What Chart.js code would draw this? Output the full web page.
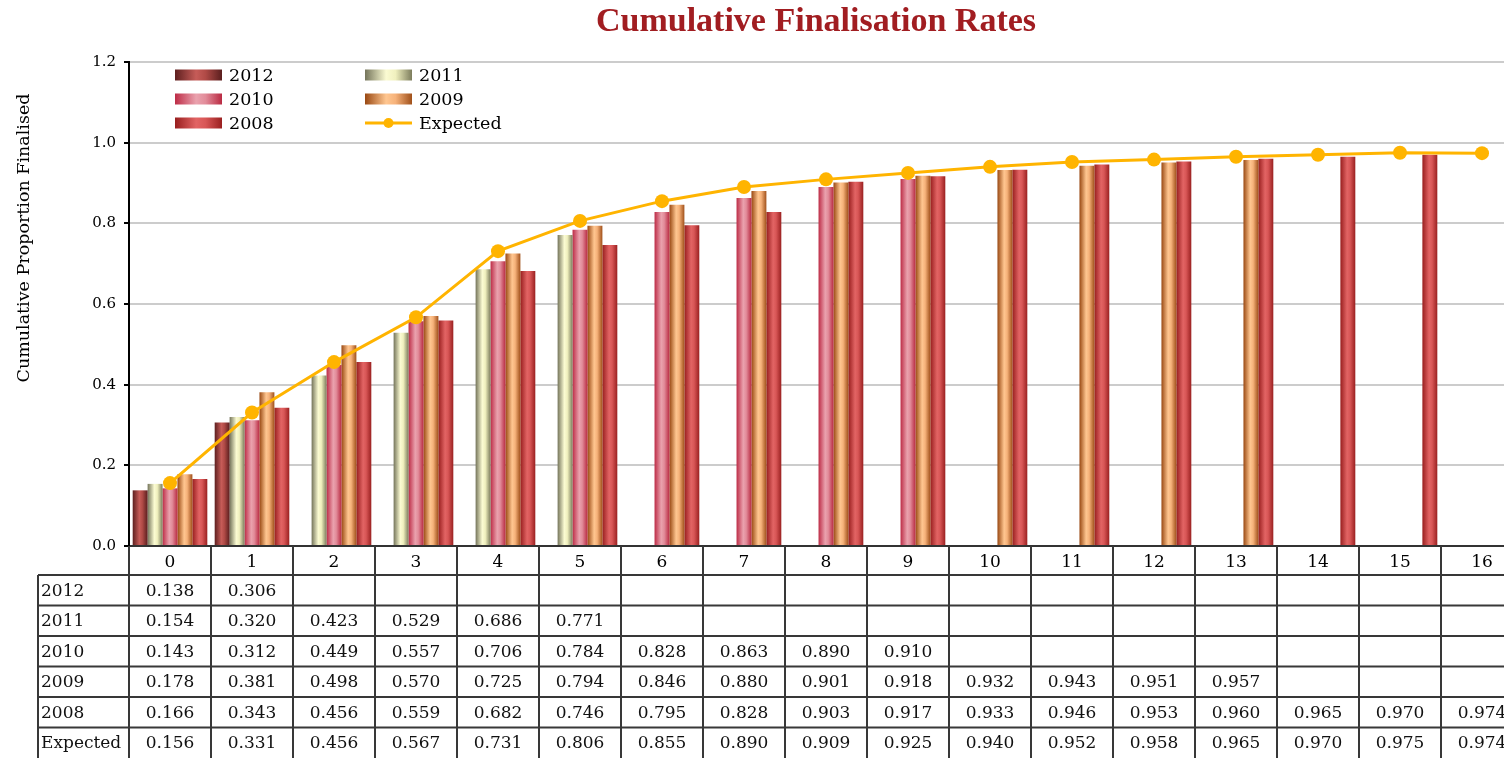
<!DOCTYPE html>
<html>
<head>
<meta charset="utf-8">
<title>Cumulative Finalisation Rates</title>
<script src="https://cdn.jsdelivr.net/npm/chart.js@4.4.1/dist/chart.umd.min.js"></script>
<style>
	html, body { margin: 0; padding: 0; background: #fff; overflow: hidden; }
	#wrap { width: 1530px; height: 758px; }
</style>
</head>
<body>
<div id="wrap"><canvas id="finalisation-chart" width="1530" height="758"></canvas></div>
<script>
// development period (years since lodgement)
var categories = ['0', '1', '2', '3', '4', '5', '6', '7', '8', '9', '10', '11', '12', '13', '14', '15', '16'];

var y2012 = [0.138, 0.306];
var y2011 = [0.154, 0.320, 0.423, 0.529, 0.686, 0.771];
var y2010 = [0.143, 0.312, 0.449, 0.557, 0.706, 0.784, 0.828, 0.863, 0.890, 0.910];
var y2009 = [0.178, 0.381, 0.498, 0.570, 0.725, 0.794, 0.846, 0.880, 0.901, 0.918, 0.932, 0.943, 0.951, 0.957];
var y2008 = [0.166, 0.343, 0.456, 0.559, 0.682, 0.746, 0.795, 0.828, 0.903, 0.917, 0.933, 0.946, 0.953, 0.960, 0.965, 0.970, 0.974];
var expected = [0.156, 0.331, 0.456, 0.567, 0.731, 0.806, 0.855, 0.890, 0.909, 0.925, 0.940, 0.952, 0.958, 0.965, 0.970, 0.975, 0.974];

var yTicks = [0, 0.2, 0.4, 0.6, 0.8, 1.0, 1.2];

var SERIF = '"DejaVu Serif", serif';
var LINE_COLOR = '#ffb400';

// cylinder-like shading for each year: edge, highlight, mid, edge
var shades = {
	'2012': ['#5e1f1f', '#c65c58', '#b04a46', '#5a1e1e'],
	'2011': ['#74745a', '#fbfbd2', '#f0f0be', '#7c7c5c'],
	'2010': ['#bd2c46', '#eaa2ae', '#e28c9a', '#b92a42'],
	'2009': ['#994812', '#ffc690', '#f6b27a', '#a0501a'],
	'2008': ['#981e1e', '#e26464', '#d85656', '#9a2020']
};

function shadeGradient(ctx, label, x0, x1) {
	var s = shades[label];
	var g = ctx.createLinearGradient(x0, 0, x1, 0);
	g.addColorStop(0, s[0]);
	g.addColorStop(0.45, s[1]);
	g.addColorStop(0.65, s[2]);
	g.addColorStop(1, s[3]);
	return g;
}

function barSet(label, values) {
	return { type: 'bar', label: label, data: values, order: 1, backgroundColor: shades[label][2], borderWidth: 0 };
}

// repaint every bar with its own horizontal gradient
var barShading = {
	id: 'barShading',
	beforeDatasetsDraw: function(chart) {
		chart.data.datasets.forEach(function(ds, i) {
			if (ds.type !== 'bar') return;
			chart.getDatasetMeta(i).data.forEach(function(el, j) {
				if (ds.data[j] == null) return;
				var g = shadeGradient(chart.ctx, ds.label, el.x - el.width / 2, el.x + el.width / 2);
				el.options = Object.assign({}, el.options, { backgroundColor: g });
			});
		});
	}
};

// chart title and the value-axis title
var headings = {
	id: 'headings',
	afterDraw: function(chart) {
		var ctx = chart.ctx, a = chart.chartArea;
		ctx.save();
		ctx.font = 'bold 34px "Liberation Serif", serif';
		ctx.fillStyle = '#a11d21';
		ctx.textAlign = 'center';
		ctx.textBaseline = 'middle';
		ctx.fillText('Cumulative Finalisation Rates', (a.left + a.right) / 2 - 10, 22);

		ctx.font = '17.5px ' + SERIF;
		ctx.fillStyle = '#000';
		ctx.translate(24, 238);
		ctx.rotate(-Math.PI / 2);
		ctx.fillText('Cumulative Proportion Finalised', 0, 0);
		ctx.restore();
	}
};

// two-column legend in the top left of the plot
var insetLegend = {
	id: 'insetLegend',
	afterDraw: function(chart) {
		var ctx = chart.ctx, a = chart.chartArea;
		var cols = [a.left + 46, a.left + 236];
		var sw = 47;
		ctx.save();
		ctx.font = '17.5px ' + SERIF;
		ctx.textBaseline = 'middle';
		ctx.fillStyle = '#000';
		chart.data.datasets.forEach(function(ds, i) {
			var x = cols[i % 2];
			var y = a.top + 13 + Math.floor(i / 2) * 24;
			if (ds.type === 'bar') {
				ctx.fillStyle = shadeGradient(ctx, ds.label, x, x + sw);
				ctx.fillRect(x, y - 5.5, sw, 11);
			} else {
				ctx.strokeStyle = ds.borderColor;
				ctx.lineWidth = 3;
				ctx.beginPath();
				ctx.moveTo(x, y);
				ctx.lineTo(x + sw, y);
				ctx.stroke();
				ctx.fillStyle = ds.borderColor;
				ctx.beginPath();
				ctx.arc(x + sw / 2, y, 5, 0, Math.PI * 2);
				ctx.fill();
			}
			ctx.fillStyle = '#000';
			ctx.fillText(ds.label, x + sw + 7, y + 1);
		});
		ctx.restore();
	}
};

// data table under the category axis
var dataTable = {
	id: 'dataTable',
	afterDraw: function(chart) {
		var ctx = chart.ctx, xs = chart.scales.x, a = chart.chartArea;
		var rows = chart.data.datasets;
		var colW = xs.width / categories.length;
		var labelLeft = 38;
		var headTop = a.bottom;
		var rowTop = headTop + 29;
		var rowH = (chart.height - rowTop) / rows.length;
		ctx.save();
		ctx.strokeStyle = '#383838';
		ctx.lineWidth = 2;
		ctx.beginPath();
		for (var k = 0; k < rows.length; k++) {
			ctx.moveTo(labelLeft, rowTop + k * rowH);
			ctx.lineTo(xs.right, rowTop + k * rowH);
		}
		for (var c = 0; c <= categories.length; c++) {
			ctx.moveTo(xs.left + c * colW, headTop);
			ctx.lineTo(xs.left + c * colW, chart.height);
		}
		ctx.moveTo(labelLeft, rowTop);
		ctx.lineTo(labelLeft, chart.height);
		ctx.stroke();

		ctx.font = '17px ' + SERIF;
		ctx.fillStyle = '#111';
		ctx.textBaseline = 'middle';
		rows.forEach(function(ds, r) {
			var y = rowTop + r * rowH + rowH / 2 + 1;
			ctx.textAlign = 'left';
			ctx.fillText(ds.label, labelLeft + 3, y);
			ctx.textAlign = 'center';
			ds.data.forEach(function(v, i) {
				if (v == null) return;
				ctx.fillText(v.toFixed(3), xs.getPixelForValue(i), y);
			});
		});
		ctx.restore();
	}
};

new Chart(document.getElementById('finalisation-chart'), {
	data: {
		labels: categories,
		datasets: [
			barSet('2012', y2012),
			barSet('2011', y2011),
			barSet('2010', y2010),
			barSet('2009', y2009),
			barSet('2008', y2008),
			{
				type: 'line',
				label: 'Expected',
				data: expected,
				order: 0,
				borderColor: LINE_COLOR,
				backgroundColor: LINE_COLOR,
				borderWidth: 3,
				tension: 0,
				pointRadius: 7,
				pointBorderWidth: 0,
				pointBackgroundColor: LINE_COLOR
			}
		]
	},
	options: {
		responsive: false,
		animation: false,
		events: [],
		datasets: { bar: { categoryPercentage: 0.91, barPercentage: 1 } },
		layout: { padding: { top: 62, left: 0, right: 6, bottom: 0 } },
		plugins: { legend: { display: false }, tooltip: { enabled: false } },
		scales: {
			x: {
				grid: { display: false, drawTicks: false },
				border: { color: '#333', width: 2 },
				ticks: { color: '#000', font: { family: SERIF, size: 17 }, padding: 6 },
				afterFit: function(scale) { scale.height = 212; }
			},
			y: {
				min: 0,
				max: 1.2,
				afterBuildTicks: function(scale) { scale.ticks = yTicks.map(function(v) { return { value: v }; }); },
				grid: { color: '#cccccc', lineWidth: 2, tickColor: '#000', tickLength: 5 },
				border: { color: '#000', width: 2 },
				ticks: {
					color: '#000',
					font: { family: SERIF, size: 15 },
					padding: 8,
					callback: function(v) { return v.toFixed(1); }
				},
				afterFit: function(scale) { scale.width = 129; }
			}
		}
	},
	plugins: [barShading, headings, insetLegend, dataTable]
});
</script>
</body>
</html>
